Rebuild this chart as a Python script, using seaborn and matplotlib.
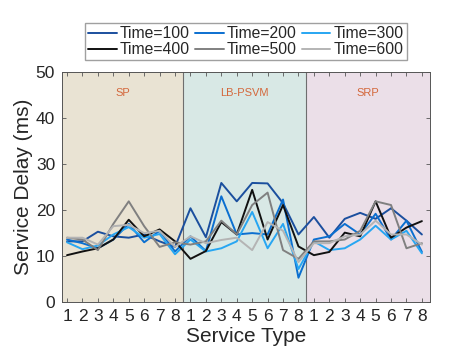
import numpy as np
import pandas as pd
import matplotlib
matplotlib.use("Agg")
import matplotlib.pyplot as plt
import seaborn as sns

# Service types repeat for each scheme
schemes = ["SP", "LB-PSVM", "SRP"]
service_types = [1, 2, 3, 4, 5, 6, 7, 8]
time_labels = ["Time=100", "Time=200", "Time=300", "Time=400", "Time=500", "Time=600"]

# Service delay (ms), 8 values per scheme: SP | LB-PSVM | SRP
delay_t100 = [13.2, 13.2, 15.3, 14.3, 14.0, 14.7, 13.2, 12.0,
              20.4, 14.1, 25.9, 21.9, 25.9, 25.8, 21.5, 14.7,
              18.5, 14.0, 18.1, 19.4, 18.1, 20.4, 17.7, 14.7]
delay_t200 = [13.6, 12.8, 11.7, 13.6, 17.0, 13.0, 15.5, 11.0,
              14.3, 11.1, 23.0, 14.7, 15.0, 14.7, 22.3, 5.3,
              13.6, 14.3, 17.0, 14.7, 19.2, 13.6, 17.7, 10.9]
delay_t300 = [13.0, 11.5, 12.3, 14.7, 16.3, 14.0, 14.8, 10.4,
              13.6, 11.0, 11.7, 13.2, 19.6, 11.7, 17.0, 7.2,
              13.2, 11.3, 11.7, 13.6, 16.6, 13.6, 15.5, 10.6]
delay_t400 = [10.2, 11.0, 11.7, 13.6, 17.9, 14.3, 15.8, 13.2,
              9.4, 11.1, 17.4, 14.7, 24.4, 13.6, 21.1, 12.1,
              10.2, 10.9, 15.1, 14.3, 21.9, 14.0, 16.2, 17.6]
delay_t500 = [14.0, 13.6, 11.3, 17.0, 21.9, 16.5, 12.0, 13.0,
              12.5, 13.2, 17.7, 14.7, 21.1, 23.8, 11.3, 9.4,
              13.2, 13.2, 13.6, 15.5, 21.9, 21.1, 11.7, 12.8]
delay_t600 = [14.0, 14.0, 12.5, 16.5, 16.8, 15.0, 15.5, 12.0,
              14.3, 12.8, 13.5, 14.0, 11.3, 17.4, 15.5, 8.7,
              12.8, 12.8, 14.3, 14.7, 17.7, 14.7, 14.7, 12.5]

all_delays = [delay_t100, delay_t200, delay_t300, delay_t400, delay_t500, delay_t600]
line_colors = ["#1b4f9e", "#0b6fd0", "#27a6f2", "#111111", "#808080", "#b4b4b4"]
span_colors = ["#e9e3d3", "#d8e8e5", "#ebdfe8"]

positions = np.arange(1, len(schemes) * len(service_types) + 1)
df = pd.concat([
    pd.DataFrame({"pos": positions, "delay": d, "series": lab})
    for lab, d in zip(time_labels, all_delays)
])

sns.set_style("ticks")
plt.rcParams["font.family"] = ["Liberation Sans", "DejaVu Sans"]

fig = plt.figure(figsize=(4.74, 3.55), dpi=100)
ax = fig.add_axes([0.131, 0.149, 0.776, 0.648])

n = len(service_types)
xmin, xmax = 0.68, 24.52
edges = [xmin] + [n * (k + 1) + 0.5 for k in range(len(schemes) - 1)] + [xmax]
for k, name in enumerate(schemes):
    ax.axvspan(edges[k], edges[k + 1], color=span_colors[k], zorder=0, lw=0)
    ax.text((edges[k] + edges[k + 1]) / 2, 45.5, name, color="#d4683c",
            fontsize=8, ha="center", va="center")
for e in edges[1:-1]:
    ax.axvline(e, color="#6e6e6e", lw=0.8, zorder=1)

sns.lineplot(data=df, x="pos", y="delay", hue="series", hue_order=time_labels,
             palette=line_colors, linewidth=1.4, ax=ax, zorder=3)

ax.set_xlim(xmin, xmax)
ax.set_ylim(0, 50)
ax.set_xticks(positions)
ax.set_xticklabels([str(s) for s in service_types] * len(schemes))
ax.set_yticks(range(0, 51, 10))
ax.tick_params(direction="in", top=True, right=True, labelsize=12.5,
               length=3, width=0.6, color="#555555", pad=5)
for sp in ax.spines.values():
    sp.set_color("#555555")
    sp.set_linewidth(0.7)
ax.set_xlabel("Service Type", fontsize=15, labelpad=2)
ax.set_ylabel("Service Delay (ms)", fontsize=15, labelpad=2)

# legend filled row by row (3 per row)
handles, labels = ax.get_legend_handles_labels()
order = [0, 3, 1, 4, 2, 5]
ax.legend([handles[i] for i in order], [labels[i] for i in order], ncol=3,
          loc="center", bbox_to_anchor=(0.519, 0.882),
          bbox_transform=fig.transFigure, fontsize=11.3, frameon=True,
          fancybox=False, edgecolor="#888888", handlelength=1.8,
          handletextpad=0.2, columnspacing=0.35, borderpad=0.2,
          labelspacing=0.05, borderaxespad=0)

fig.savefig("out.png", dpi=100)
